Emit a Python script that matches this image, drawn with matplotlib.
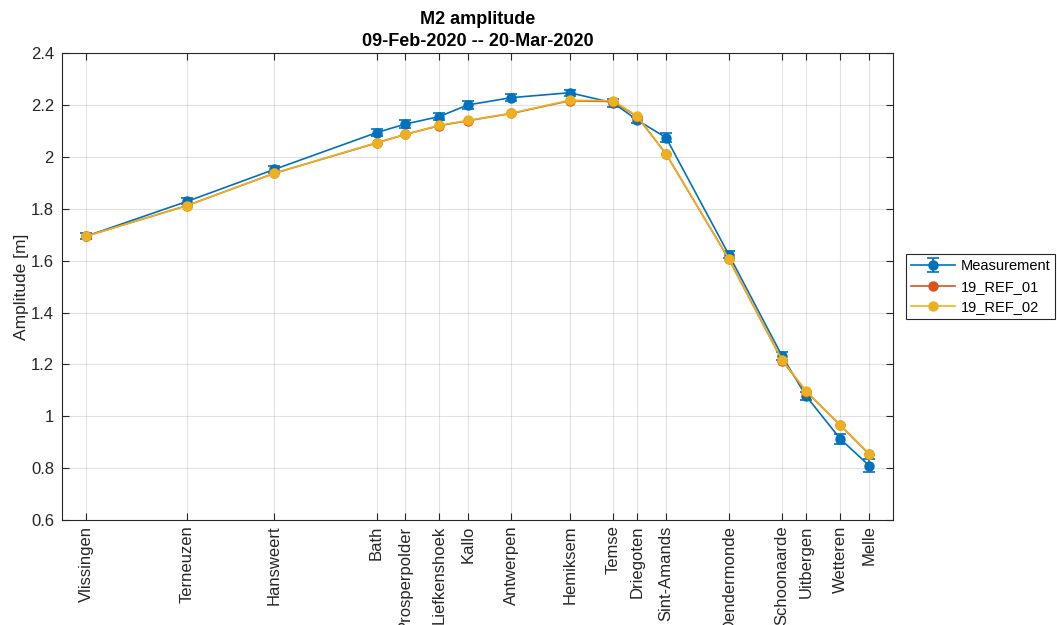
import numpy as np
import matplotlib.pyplot as plt

plt.rcParams['font.family'] = ['Liberation Sans', 'DejaVu Sans']

# stations along the estuary and their distance from Vlissingen [km]
stations = ['Vlissingen', 'Terneuzen', 'Hansweert', 'Bath', 'Prosperpolder',
            'Liefkenshoek', 'Kallo', 'Antwerpen', 'Hemiksem', 'Temse',
            'Driegoten', 'Sint-Amands', 'Dendermonde', 'Schoonaarde',
            'Uitbergen', 'Wetteren', 'Melle']
dist_km = [0.0, 18.3, 34.1, 52.7, 57.9, 64.1, 69.3, 77.2, 87.8, 95.7,
           100.1, 105.3, 116.7, 126.4, 130.8, 137.0, 142.2]

# M2 amplitude [m]
meas = [1.695, 1.829, 1.952, 2.094, 2.127, 2.156, 2.201, 2.229, 2.248, 2.209,
        2.142, 2.075, 1.624, 1.232, 1.077, 0.912, 0.810]
meas_err = [0.012, 0.012, 0.012, 0.014, 0.015, 0.012, 0.015, 0.013, 0.012, 0.016,
            0.012, 0.016, 0.014, 0.016, 0.016, 0.018, 0.024]
ref01 = [1.695, 1.813, 1.937, 2.054, 2.087, 2.121, 2.140, 2.168, 2.217, 2.214,
         2.155, 2.012, 1.607, 1.215, 1.095, 0.965, 0.854]
ref02 = [1.695, 1.813, 1.937, 2.055, 2.087, 2.122, 2.141, 2.169, 2.219, 2.217,
         2.157, 2.012, 1.608, 1.217, 1.096, 0.966, 0.856]

c_blue = '#0072BD'
c_orange = '#D95319'
c_yellow = '#EDB120'
axcol = '#262626'

fig = plt.figure(figsize=(10.57, 6.25), dpi=100)
ax = fig.add_axes([0.0589, 0.168, 0.7857, 0.7467])

h_meas = ax.errorbar(dist_km, meas, yerr=meas_err, color=c_blue, marker='o', ms=6.5,
                     mfc=c_blue, mec=c_blue, lw=1.2, capsize=4, elinewidth=1.2,
                     capthick=1.2, label='Measurement', zorder=3)
h_r1, = ax.plot(dist_km, ref01, color=c_orange, marker='o', ms=6.5, lw=1.2,
                label='19_REF_01', zorder=4)
h_r2, = ax.plot(dist_km, ref02, color=c_yellow, marker='o', ms=6.5, lw=1.2,
                label='19_REF_02', zorder=5)

ax.set_xlim(-4.4, 146.5)
ax.set_ylim(0.6, 2.4)
ax.set_xticks(dist_km)
ax.set_xticklabels(stations, rotation=90, fontsize=12, color=axcol)
ax.set_yticks(np.arange(0.6, 2.41, 0.2))
ax.set_yticklabels(['0.6', '0.8', '1', '1.2', '1.4', '1.6', '1.8', '2', '2.2', '2.4'],
                   fontsize=12, color=axcol)
ax.tick_params(direction='in', top=True, right=True, length=5, width=0.8,
               colors=axcol)
ax.tick_params(axis='x', pad=4)
ax.tick_params(axis='y', pad=6)
ax.grid(True, color='#262626', alpha=0.13, lw=0.8)
ax.set_axisbelow(True)
for sp in ax.spines.values():
    sp.set_color(axcol)
    sp.set_linewidth(0.8)

ax.set_ylabel('Amplitude [m]', fontsize=12.5, color=axcol, labelpad=1)
ax.set_title('M2 amplitude\n09-Feb-2020 -- 20-Mar-2020', fontsize=13,
             fontweight='bold', color='black', pad=5, linespacing=1.45)

leg = ax.legend([h_meas, h_r1, h_r2], ['Measurement', '19_REF_01', '19_REF_02'],
                loc='upper left', bbox_to_anchor=(0.857, 0.5936),
                bbox_transform=fig.transFigure, fontsize=10.5, frameon=True,
                fancybox=False, edgecolor=axcol, framealpha=1,
                handlelength=3.0, borderpad=0.35, labelspacing=0.45,
                handletextpad=0.4, borderaxespad=0)
leg.get_frame().set_linewidth(0.8)

fig.savefig('out.png', dpi=100)
